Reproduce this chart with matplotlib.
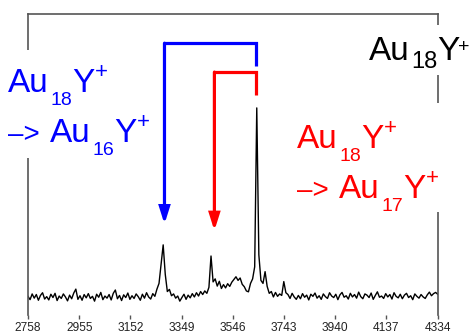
import numpy as np
import matplotlib
matplotlib.use('Agg')
import matplotlib.pyplot as plt
from matplotlib.patches import Rectangle

plt.rcParams['font.family'] = ['Liberation Sans', 'DejaVu Sans']

# ---------------- data ----------------
mz_start, mz_end = 2758, 4334
tick_values = [2758, 2955, 3152, 3349, 3546, 3743, 3940, 4137, 4334]

intensity = [
    6.2, 5.1, 7.0, 5.6, 6.8, 4.9, 6.5, 7.4, 5.3, 6.1,
    5.0, 6.9, 5.8, 7.2, 4.8, 6.3, 5.5, 7.0, 6.0, 4.7,
    6.6, 5.4, 7.3, 8.6, 5.2, 6.4, 4.9, 6.8, 5.7, 7.1,
    5.5, 6.2, 4.6, 6.9, 5.9, 7.5, 5.1, 6.3, 5.6, 6.8,
    5.0, 7.2, 8.3, 5.4, 6.5, 4.8, 6.7, 5.8, 7.3, 5.2,
    6.4, 5.5, 7.0, 6.1, 4.9, 6.9, 5.6, 7.4, 6.0, 5.3,
    7.1, 6.2, 8.6, 10.5, 17.0, 23.3, 13.5, 7.8, 8.5, 6.4,
    7.0, 5.6, 6.3, 4.6, 5.8, 6.9, 5.2, 6.6, 5.7, 7.1,
    6.0, 7.4, 6.3, 7.8, 6.8, 8.0, 7.2, 9.2, 19.6, 11.0,
    12.0, 9.6, 11.2, 8.8, 10.1, 9.0, 10.4, 9.5, 10.9, 11.8,
    12.7, 11.5, 12.3, 10.2, 9.4, 8.0, 7.7, 10.5, 12.0, 16.0,
    68.8, 20.0, 11.5, 10.5, 14.4, 9.5, 7.2, 7.8, 6.0, 7.5,
    6.2, 7.0, 6.5, 11.1, 7.4, 6.8, 5.5, 7.2, 6.0, 5.2,
    6.5, 5.4, 7.1, 5.9, 6.6, 5.0, 6.9, 6.2, 7.3, 5.6,
    6.4, 5.2, 7.0, 6.1, 5.5, 7.4, 6.3, 5.8, 6.9, 5.1,
    6.7, 7.5, 5.9, 6.4, 5.3, 7.2, 6.0, 6.8, 5.6, 7.6,
    6.1, 5.4, 7.0, 6.6, 5.8, 7.3, 5.2, 6.5, 7.7, 5.9,
    6.3, 5.5, 7.1, 6.0, 6.8, 5.3, 7.4, 6.2, 5.7, 6.9,
    5.4, 6.6, 7.2, 5.8, 6.4, 5.1, 7.0, 6.2, 5.6, 6.8,
    6.0, 5.5, 6.7, 7.6, 6.4, 7.1, 7.5, 6.9,
]
mz = np.linspace(mz_start, mz_end, len(intensity))

# fragmentation brackets (m/z, intensity units)
parent_mz = 3635
blue_target_mz = 3283
red_target_mz = 3475
blue_top, blue_leg_bottom, blue_tip = 90.3, 82.7, 30.2
red_top, red_leg_bottom, red_tip = 80.7, 73.1, 28.0

BLUE = '#0000FF'
RED = '#FF0000'
SPINE = '#555555'

W, H = 473, 334
fig = plt.figure(figsize=(W / 100, H / 100), dpi=100)
ax = fig.add_axes([28 / W, 19 / H, 409.7 / W, 301 / H])

ax.plot(mz, intensity, color='black', lw=1.0)
ax.set_xlim(mz_start, mz_end)
ax.set_ylim(0, 100)
ax.set_xticks(tick_values)
ax.set_xticklabels([str(t) for t in tick_values])
ax.set_yticks([])

for s in ['top', 'left', 'right']:
    ax.spines[s].set_color(SPINE)
    ax.spines[s].set_linewidth(1.2)
ax.spines['bottom'].set_visible(False)
ax.tick_params(axis='x', direction='out', length=3, width=1, color=SPINE,
               labelcolor='#222222', labelsize=8.6, pad=2)


def bracket(target, top, leg_bottom, tip, color):
    ax.plot([parent_mz, parent_mz, target], [leg_bottom, top, top],
            color=color, lw=2.3, solid_joinstyle='miter', solid_capstyle='butt',
            zorder=4)
    ax.annotate('', xy=(target, tip), xytext=(target, top),
                arrowprops=dict(arrowstyle='-|>,head_length=0.95,head_width=0.3',
                                color=color, lw=2.3, shrinkA=0, shrinkB=0,
                                mutation_scale=10, joinstyle='miter'),
                zorder=4)


bracket(blue_target_mz, blue_top, blue_leg_bottom, blue_tip, BLUE)
bracket(red_target_mz, red_top, red_leg_bottom, red_tip, RED)


def fx(x):
    return x / W


def fy(y):
    return 1 - y / H


# white label backgrounds interrupting the frame
for (x0, y0, x1, y1) in [(20, 50, 36, 158), (430, 25, 446, 75), (430, 103, 446, 212)]:
    fig.patches.append(Rectangle((fx(x0), fy(y1)), (x1 - x0) / W, (y1 - y0) / H,
                                 transform=fig.transFigure, facecolor='white',
                                 edgecolor='none', zorder=1))

renderer = fig.canvas.get_renderer()


def chem(x, y, parts, color):
    """parts: (text, fontsize, dy_px) or ('gap', px); dy>0 moves down."""
    cx = x
    for p in parts:
        if p[0] == 'gap':
            cx += p[1]
            continue
        s, size, dy = p
        t = fig.text(fx(cx), fy(y + dy), s, fontsize=size, color=color,
                     va='baseline', ha='left')
        cx += t.get_window_extent(renderer).width


chem(369, 60, [('Au', 24, 0), ('gap', 1), ('18', 17, 8), ('Y', 24, 0),
               ('gap', -1), ('+', 14, -8)], 'black')
chem(8, 92, [('Au', 24, 0), ('gap', 2), ('18', 14, 13), ('Y', 24, 0),
             ('gap', 0), ('+', 16, -14)], BLUE)
chem(8, 142, [('–>', 20, 0), ('gap', 10), ('Au', 24, 0), ('gap', 2), ('16', 14, 13),
              ('Y', 24, 0), ('gap', 0), ('+', 16, -14)], BLUE)
chem(297, 148, [('Au', 24, 0), ('gap', 2), ('18', 14, 13), ('Y', 24, 0),
                ('gap', 0), ('+', 16, -14)], RED)
chem(297, 198, [('–>', 20, 0), ('gap', 10), ('Au', 24, 0), ('gap', 2), ('17', 14, 13),
                ('Y', 24, 0), ('gap', 0), ('+', 16, -14)], RED)

fig.savefig('out.png', dpi=100)
